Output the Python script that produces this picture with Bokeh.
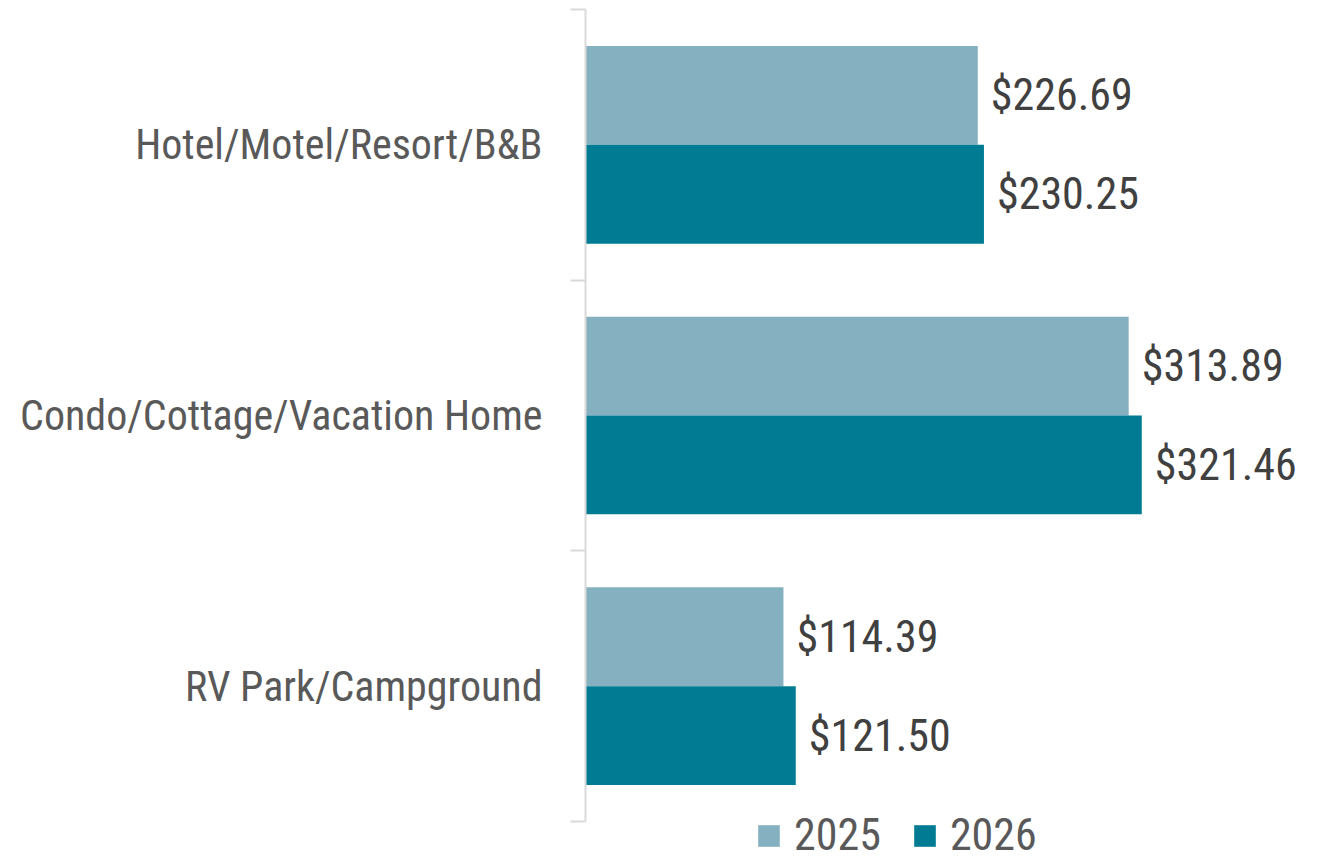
from bokeh.plotting import figure
from bokeh.models import ColumnDataSource, Range1d, Legend, LegendItem, LinearAxis, FixedTicker
from bokeh.transform import dodge
from bokeh.core.properties import value
from bokeh.embed import file_html
from bokeh.resources import INLINE

categories = ["Hotel/Motel/Resort/B&B", "Condo/Cottage/Vacation Home", "RV Park/Campground"]
years = ["2025", "2026"]
values_2025 = [226.69, 313.89, 114.39]
values_2026 = [230.25, 321.46, 121.50]

FONT = "Roboto Condensed"
C2025 = "#84B0C0"
C2026 = "#007B94"
AXIS_C = "#D9D9D9"

n = len(categories)
ypos = [n - 1 - i + 0.5 for i in range(n)]  # first category at top

src = ColumnDataSource(dict(
    cat=categories,
    y=ypos,
    v2025=values_2025,
    v2026=values_2026,
    l2025=[f"${v:,.2f}" for v in values_2025],
    l2026=[f"${v:,.2f}" for v in values_2026],
))

W, HGT = 1329, 861
TOP, LEFT, RIGHT = 9, 585, 1
p = figure(width=W, height=HGT,
           x_range=Range1d(0, (W - LEFT - RIGHT) / 1.7305),
           y_range=Range1d(-((HGT - TOP) - 812) / (812 / n), n),
           x_axis_location=None, y_axis_location=None,
           output_backend="svg", toolbar_location=None,
           min_border_left=LEFT, min_border_right=RIGHT, min_border_top=TOP, min_border_bottom=0)
p.outline_line_color = None
p.xgrid.visible = False
p.ygrid.visible = False

H = 0.365
r1 = p.hbar(y=dodge("y", H / 2), left=0, right="v2025", height=H,
            source=src, fill_color=C2025, line_color=None)
r2 = p.hbar(y=dodge("y", -H / 2), left=0, right="v2026", height=H,
            source=src, fill_color=C2026, line_color=None)

p.text(x="v2025", y=dodge("y", H / 2), text="l2025", source=src,
       x_offset=13, text_align="left", text_baseline="middle",
       text_font=value(FONT), text_font_size="44px", text_color="#404040")
p.text(x="v2026", y=dodge("y", -H / 2), text="l2026", source=src,
       x_offset=13, text_align="left", text_baseline="middle",
       text_font=value(FONT), text_font_size="44px", text_color="#404040")

ax = LinearAxis(
    ticker=FixedTicker(ticks=ypos, minor_ticks=list(range(n + 1))),
    major_label_overrides={y: c for y, c in zip(ypos, categories)},
    bounds=(0, n),
    axis_line_color=AXIS_C, axis_line_width=2,
    major_tick_line_color=None, major_tick_in=0, major_tick_out=0,
    minor_tick_line_color=AXIS_C, minor_tick_line_width=2,
    minor_tick_in=0, minor_tick_out=15,
    major_label_standoff=28,
    major_label_text_font=FONT, major_label_text_font_size="42px",
    major_label_text_color="#595959",
)
p.add_layout(ax, "left")

legend = Legend(items=[LegendItem(label=years[0], renderers=[r1]),
                       LegendItem(label=years[1], renderers=[r2])],
                orientation="horizontal", location=(170, 0),
                glyph_width=27, glyph_height=27, label_standoff=12, spacing=30,
                padding=0, margin=0, border_line_color=None, background_fill_alpha=0,
                label_text_font=FONT, label_text_font_size="44px",
                label_text_color="#595959")
p.add_layout(legend, "center")

open("out.html", "w").write(file_html(p, INLINE))
